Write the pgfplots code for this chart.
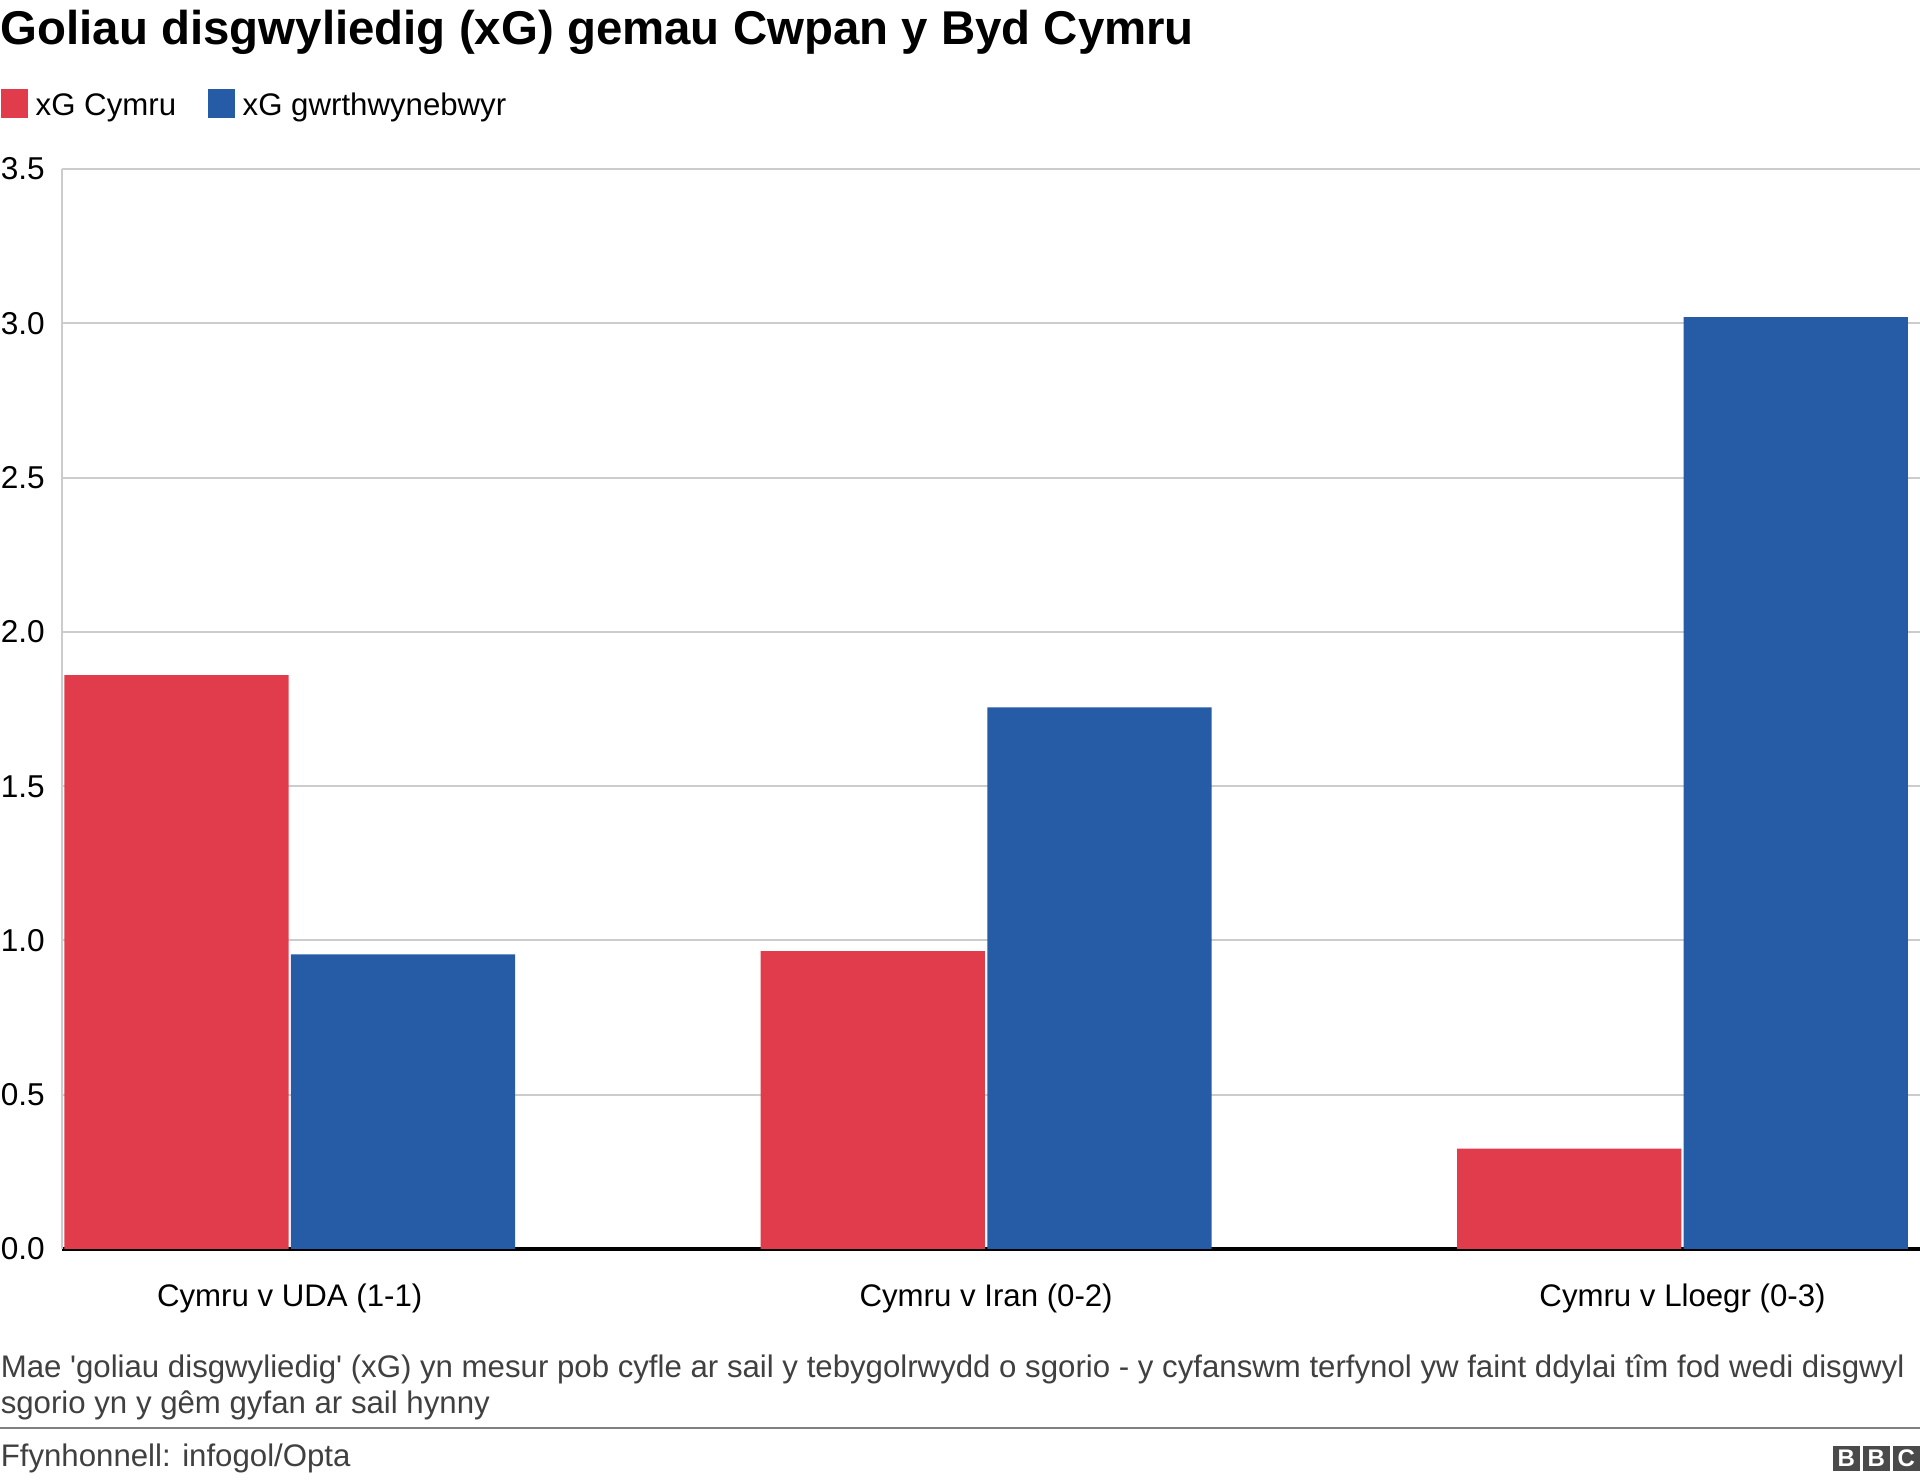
\documentclass[border=0pt]{standalone}
\usepackage{fontspec}
\setmainfont{Liberation Sans}
\usepackage{pgfplots}
\pgfplotsset{compat=1.18}
\definecolor{xgred}{HTML}{E03C4B}
\definecolor{xgblue}{HTML}{265BA5}
\definecolor{gridgrey}{HTML}{CCCCCC}
\definecolor{notegrey}{HTML}{404040}
\definecolor{logogrey}{HTML}{4A4A4A}
\pgfplotsset{sqlegend/.style={legend image code/.code={\fill[##1] (0pt,-2.7pt) rectangle (6.75pt,4.55pt);}}}

\begin{document}
\begin{tikzpicture}[x=1pt,y=1pt]
\useasboundingbox (0,0) rectangle (480,-370.75);
\node[anchor=base west, inner sep=0pt, font=\fontsize{11.85}{14}\selectfont\bfseries] at (0,-11.25) {Goliau disgwyliedig (xG) gemau Cwpan y Byd Cymru};
\begin{axis}[
    at={(15.5pt,-42.25pt)}, anchor=north west,
    width=464.5pt, height=270pt, scale only axis,
    ybar, bar width=0.322,
    xmin=-0.327, xmax=2.341, ymin=0, ymax=3.5,
    xtick=data,
    xticklabels={Cymru v UDA (1-1), Cymru v Iran (0-2), Cymru v Lloegr (0-3)},
    ytick={0,0.5,1,1.5,2,2.5,3,3.5},
    /pgf/number format/assume math mode=true,
    yticklabel style={/pgf/number format/fixed, /pgf/number format/fixed zerofill,
        /pgf/number format/precision=1, anchor=base west, inner sep=0pt,
        xshift=-15.5pt, yshift=-2.75pt, font=\fontsize{7.9}{9}\selectfont},
    xticklabel style={anchor=base, yshift=-14.4pt, font=\fontsize{7.8}{9}\selectfont},
    major tick length=0pt,
    axis x line*=bottom, axis y line*=left,
    axis line style={-},
    x axis line style={black, line width=1pt},
    y axis line style={gridgrey, line width=0.6pt},
    ymajorgrids, grid style={gridgrey, line width=0.5pt},
    legend columns=2,
    legend style={at={(-0.0334,1.0786)}, anchor=north west, draw=none, fill=none,
        inner sep=0pt, font=\fontsize{7.8}{9}\selectfont,
        /tikz/every even column/.append style={column sep=5.9pt}},
]
\addplot[fill=xgred, draw=none, bar shift=-0.1627, sqlegend] coordinates {(0,1.86) (1,0.965) (2,0.325)};
\addlegendentry{xG Cymru}
\addplot[fill=xgblue, draw=none, bar shift=0.1627, sqlegend] coordinates {(0,0.955) (1,1.755) (2,3.02)};
\addlegendentry{xG gwrthwynebwyr}
\end{axis}
\node[anchor=base west, inner sep=0pt, font=\fontsize{7.8}{9}\selectfont, text=notegrey] at (0,-344.4) {Mae \textquotesingle goliau disgwyliedig\textquotesingle{} (xG) yn mesur pob cyfle ar sail y tebygolrwydd o sgorio - y cyfanswm terfynol yw faint ddylai tîm fod wedi disgwyl};
\node[anchor=base west, inner sep=0pt, font=\fontsize{7.8}{9}\selectfont, text=notegrey] at (0,-353.5) {sgorio yn y gêm gyfan ar sail hynny};
\draw[gray, line width=0.6pt] (0,-357) -- (480,-357);
\node[anchor=base west, inner sep=0pt, font=\fontsize{7.8}{9}\selectfont, text=notegrey] at (0,-366.75) {Ffynhonnell: infogol/Opta};
\foreach \i/\l in {0/B,1/B,2/C} {
  \fill[logogrey] ({458.25+\i*7.5},-361.5) rectangle ({465+\i*7.5},-367.75);
  \node[text=white, font=\fontsize{6}{6}\selectfont\bfseries, inner sep=0pt] at ({461.6+\i*7.5},-364.6) {\l};
}
\end{tikzpicture}
\end{document}
